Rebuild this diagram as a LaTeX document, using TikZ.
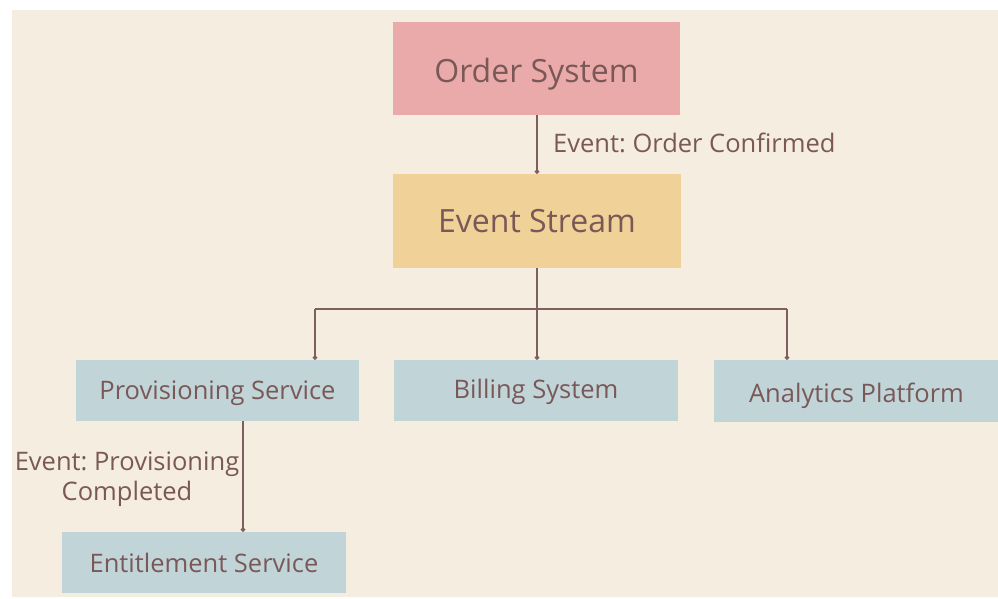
\documentclass[tikz,border=0pt]{standalone}
\usepackage{fontspec}
\setmainfont{Open Sans}
\usetikzlibrary{arrows.meta}
\frenchspacing
\definecolor{bg}{HTML}{F5EDDF}
\definecolor{pinkf}{HTML}{EBAAAA}
\definecolor{goldf}{HTML}{F0D198}
\definecolor{bluef}{HTML}{C1D5D9}
\definecolor{txt}{HTML}{7A5858}
\definecolor{ln}{HTML}{7E5E5E}
\tikzset{
  box/.style={draw=none, inner sep=0pt, text=txt, text depth=0pt},
  bigbox/.style={box, font=\fontsize{32}{35}\selectfont},
  smallbox/.style={box, fill=bluef, font=\fontsize{25.5}{28}\selectfont},
  lbl/.style={text=txt, font=\fontsize{25.5}{30.5}\selectfont, inner sep=0pt},
  conn/.style={draw=ln, line width=1.3pt, -{Circle[length=4.5pt]}},
  plain/.style={draw=ln, line width=1.3pt}
}
\begin{document}
\begin{tikzpicture}[x=1pt,y=-1pt]
\useasboundingbox (0,0) rectangle (998,599);
\fill[white] (0,0) rectangle (998,599);
\fill[bg] (12,10) rectangle (998,597);
% nodes (text height = 2 x baseline offset below centre)
\node[bigbox, fill=pinkf, minimum width=287pt, minimum height=93pt, text height=29pt] (order) at (536.5,68.5) {Order System};
\node[bigbox, fill=goldf, minimum width=288pt, minimum height=94pt, text height=22pt] (stream) at (537,221) {Event Stream};
\node[smallbox, minimum width=283pt, minimum height=61pt, text height=17pt] (prov) at (217.5,390.5) {Provisioning Service};
\node[smallbox, minimum width=284pt, minimum height=61pt, text height=15pt] (bill) at (536,390.5) {Billing System};
\node[smallbox, minimum width=285pt, minimum height=62pt, text height=22pt] (anal) at (856.5,391) {Analytics Platform};
\node[smallbox, minimum width=284pt, minimum height=61pt, text height=19pt] (ent) at (204,562.5) {Entitlement Service};
% connectors
\draw[conn] (order.south -| 537,0) -- (stream.north -| 537,0);
\node[lbl, anchor=base west] (l1) at (553,152) {Event: Order Confirmed};
\coordinate (split) at (537,309);
\coordinate (lt) at (315,309);
\coordinate (rt) at (787,309);
\draw[plain] (stream.south -| split) -- (split);
\draw[plain] (lt) -- (rt);
\draw[conn] (lt) -- (prov.north -| lt);
\draw[conn] (split) -- (bill.north -| split);
\draw[conn] (rt) -- (anal.north -| rt);
\draw[conn] (prov.south -| 243,0) -- (ent.north -| 243,0);
\node[lbl, align=center] (l2) at (127,479) {Event: Provisioning\\Completed};
\end{tikzpicture}
\end{document}
